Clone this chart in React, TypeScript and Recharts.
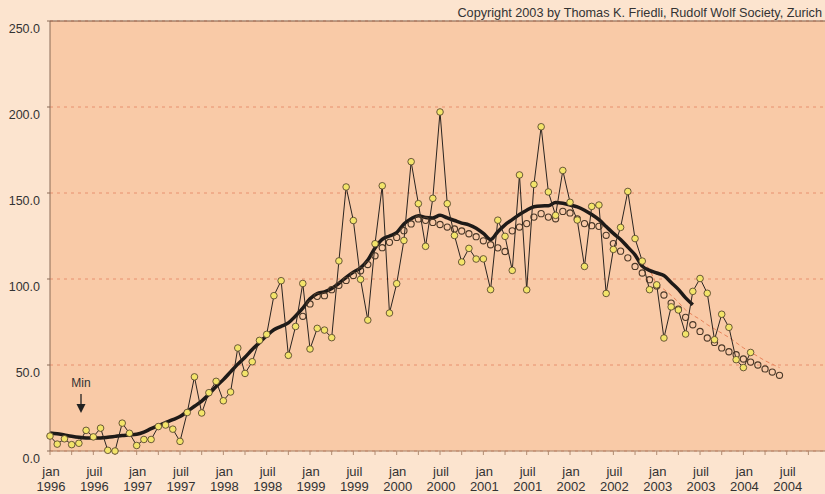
import {
  ComposedChart,
  Line,
  XAxis,
  YAxis,
  CartesianGrid,
  ReferenceLine,
} from "recharts";

// months counted from jan 1996 (0) to jun 2004 (101)
const monthly = [
  8.7, 4.0, 7.1, 3.7, 4.5, 12.0, 8.2, 13.3, 0.4, 0.0, 16.2, 10.3,
  3.2, 6.7, 6.7, 14.2, 15.1, 12.7, 5.6, 22.4, 43.1, 22.1, 33.9, 40.5,
  29.2, 34.3, 59.9, 45.1, 51.9, 64.3, 67.8, 90.3, 99.0, 55.6, 72.4, 97.4,
  59.3, 71.3, 70.3, 65.9, 110.5, 153.5, 134.0, 99.8, 76.1, 120.5, 154.2, 80.2,
  97.3, 122.4, 168.2, 143.8, 119.0, 146.9, 197.1, 143.8, 125.3, 109.9, 117.8, 111.6,
  111.7, 93.8, 134.2, 124.8, 105.0, 160.5, 93.7, 155.0, 188.5, 150.6, 137.0, 163.1,
  144.6, 134.3, 107.3, 142.2, 143.0, 91.6, 117.2, 130.0, 150.9, 123.5, 110.4, 93.8,
  96.6, 65.7, 83.8, 82.0, 68.0, 92.8, 100.3, 91.7, 64.7, 79.5, 71.9, 53.1,
  48.5, 57.3,
];

const smoothed = [
  10.5, 10, 9.3, 8.6, 8, 7.6, 7.5, 7.6, 8, 8.5, 9, 9.3,
  9.7, 11, 13, 14.8, 16.5, 18.2, 20, 23, 26, 29, 33, 37.5,
  41.5, 46, 50.5, 54.5, 59, 63, 67, 70.5, 72.5, 74.5, 78.5, 83,
  88.5, 91.5, 92.5, 94.5, 97.5, 101, 104, 106.5, 111, 118, 123, 125,
  127, 132, 135, 136.8, 135.8, 135.5, 137, 135.5, 134, 132.5, 131.5, 129.5,
  126.5, 123, 127.5, 131.5, 134.5, 137.5, 140, 142, 142.5, 142.6, 144.5, 144,
  143, 141.9, 140, 137.5, 134.5, 130.5, 126.5, 123, 118.5, 114, 107.5, 105,
  103.5, 102, 98, 94, 89, 85,
];

// open circles start at nov 1998 (35)
const circlesStart = 35;
const circles = [
  78.3, 85.5, 89.9, 90.3, 93.8, 96.3, 99.2, 102.1, 104.8, 108.4, 113.5, 118.2, 121.3,
  124.2, 128.1, 132, 134.9, 134.1, 132.9, 131.7, 130.2, 129.1, 127.9, 126.3, 124.6,
  122.2, 119.9, 118.1, 116, 128, 130.2, 132.2, 136, 138, 136, 135, 139.3,
  138.4, 135, 132.2, 131, 130.6, 125.4, 120.6, 116.2, 112.3, 107.3, 103.5, 99.6,
  96, 90.7, 86, 82.5, 77.7, 73.4, 69.5, 65.7, 63.1, 59.9, 57.7, 56,
  53.5, 51.7, 50, 47.7, 45.9, 44,
];

// dashed forecast from nov 2002 (82)
const forecastStart = 82;
const forecast = [
  110, 105.5, 97, 94, 90.5, 86.5, 82, 79, 76.5, 73.5, 71, 68.5, 66, 63,
  60, 57.5, 55, 52.5, 50.5, 48.5,
];

const monthNames = ["jan", "juil"];
const startYear = 1996;
const yTicks = [0, 50, 100, 150, 200, 250];
const xTicks = Array.from({ length: 36 }, (_, i) => i * 3);

const data = Array.from({ length: 102 }, (_, m) => ({
  m,
  monthly: m < monthly.length ? monthly[m] : null,
  smoothed: m < smoothed.length ? smoothed[m] : null,
  circle:
    m >= circlesStart && m - circlesStart < circles.length
      ? circles[m - circlesStart]
      : null,
  forecast:
    m >= forecastStart && m - forecastStart < forecast.length
      ? forecast[m - forecastStart]
      : null,
}));

const font = "'Liberation Sans', Arial, sans-serif";

const XTick = (props: any) => {
  const { x, y, payload } = props;
  const v = payload.value;
  if (v % 6 !== 0) return <g />;
  const half = v / 6;
  return (
    <g>
      <text x={x + 1} y={y + 21} textAnchor="middle" fill="#333" fontSize={13} fontFamily={font}>
        {monthNames[half % 2]}
      </text>
      <text x={x + 1} y={y + 36} textAnchor="middle" fill="#333" fontSize={13} fontFamily={font}>
        {startYear + Math.floor(half / 2)}
      </text>
    </g>
  );
};

const YTick = (props: any) => {
  const { x, y, payload } = props;
  return (
    <text x={x} y={y + 12} textAnchor="end" fill="#333" fontSize={12.5} fontFamily={font}>
      {payload.value.toFixed(1)}
    </text>
  );
};

const App = () => {
  return (
    <div
      style={{
        position: "absolute",
        left: 0,
        top: 0,
        width: 825,
        height: 494,
        background: "#FCE4CF",
        overflow: "hidden",
      }}
    >
      <ComposedChart
        width={825}
        height={494}
        data={data}
        margin={{ top: 21, right: 0, left: 0, bottom: 0 }}
      >
        <CartesianGrid
          vertical={false}
          fill="#F9CAA7"
          stroke="#E8906E"
          strokeDasharray="3 4"
        />
        <XAxis
          dataKey="m"
          type="number"
          domain={[0, 107.3]}
          ticks={xTicks}
          interval={0}
          height={43}
          tickSize={4}
          tickMargin={0}
          tick={<XTick />}
          axisLine={{ stroke: "#A07C62" }}
          tickLine={{ stroke: "#B08A70" }}
        />
        <YAxis
          type="number"
          domain={[0, 250]}
          ticks={yTicks}
          width={50}
          tickSize={3}
          tickMargin={7}
          tick={<YTick />}
          axisLine={{ stroke: "#8A6A56" }}
          tickLine={{ stroke: "#8A6A56" }}
        />
        <ReferenceLine y={250} stroke="#7A5A48" strokeWidth={1.2} />
        <Line
          dataKey="circle"
          stroke="transparent"
          dot={{ r: 3.1, fill: "none", stroke: "#4A3828", strokeWidth: 1.1 }}
          activeDot={false}
          isAnimationActive={false}
        />
        <Line
          dataKey="forecast"
          type="monotone"
          stroke="#E8825A"
          strokeWidth={1}
          strokeDasharray="4 3"
          dot={false}
          activeDot={false}
          isAnimationActive={false}
        />
        <Line
          dataKey="smoothed"
          type="monotone"
          stroke="#1E1A18"
          strokeWidth={3.5}
          dot={false}
          activeDot={false}
          isAnimationActive={false}
        />
        <Line
          dataKey="monthly"
          type="linear"
          stroke="#2A2420"
          strokeWidth={1}
          dot={{ r: 3.3, fill: "#F3E46A", stroke: "#5A4A30", strokeWidth: 0.9 }}
          activeDot={false}
          isAnimationActive={false}
        />
      </ComposedChart>
      <svg
        width={825}
        height={494}
        style={{ position: "absolute", left: 0, top: 0, pointerEvents: "none" }}
      >
        <text x={822} y={17} textAnchor="end" fill="#333" fontSize={12.7} fontFamily={font}>
          Copyright 2003 by Thomas K. Friedli, Rudolf Wolf Society, Zurich
        </text>
        <text x={81} y={387} textAnchor="middle" fill="#333" fontSize={12} fontFamily={font}>
          Min
        </text>
        <line x1={81} y1={394} x2={81} y2={406} stroke="#222" strokeWidth={1.3} />
        <polygon points="76.5,404 85.5,404 81,413" fill="#222" />
      </svg>
    </div>
  );
};

export default App;
